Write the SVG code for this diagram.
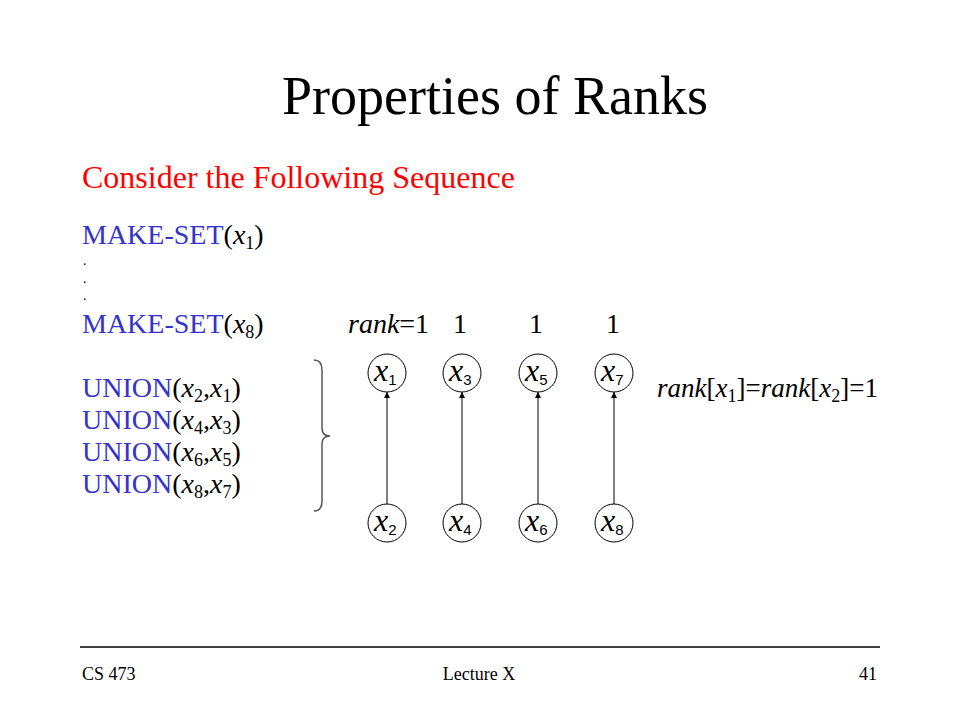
<svg xmlns="http://www.w3.org/2000/svg" width="960" height="720" viewBox="0 0 960 720">
<defs>
<style>
.serif{font-family:"Liberation Serif","Times New Roman",serif}
.blue{fill:#3333CC}
.it{font-style:italic}
.node circle{fill:#fff;stroke:#000;stroke-width:1}
.nx{font-family:"Liberation Serif",serif;font-style:italic;font-size:32px;fill:#000}
.ns{font-family:"Liberation Sans",Arial,sans-serif;font-size:15px;fill:#000}
.edge{stroke:#000;stroke-width:1;fill:none}
</style>
<marker id="ah" viewBox="0 0 10 10" refX="10" refY="5" markerWidth="6" markerHeight="6" orient="auto" markerUnits="userSpaceOnUse">
<path d="M0,0 L10,5 L0,10 z" fill="#000"/>
</marker>
</defs>
<rect width="960" height="720" fill="#fff"/>
<text class="serif" x="495" y="114" font-size="54" text-anchor="middle">Properties of Ranks</text>
<text class="serif" x="82" y="188" font-size="32" fill="#FF0000">Consider the Following Sequence</text>
<g class="serif" font-size="28">
<text x="82" y="244"><tspan class="blue">MAKE-SET</tspan>(<tspan class="it">x</tspan><tspan font-size="18" dy="5">1</tspan><tspan dy="-5">)</tspan></text>
<text x="83" y="265" font-size="14">.</text>
<text x="83" y="283" font-size="14">.</text>
<text x="83" y="300" font-size="14">.</text>
<text x="82" y="333"><tspan class="blue">MAKE-SET</tspan>(<tspan class="it">x</tspan><tspan font-size="18" dy="5">8</tspan><tspan dy="-5">)</tspan></text>
<text x="82" y="397"><tspan class="blue">UNION</tspan>(<tspan class="it">x</tspan><tspan font-size="18" dy="5">2</tspan><tspan dy="-5">,</tspan><tspan class="it">x</tspan><tspan font-size="18" dy="5">1</tspan><tspan dy="-5">)</tspan></text>
<text x="82" y="429"><tspan class="blue">UNION</tspan>(<tspan class="it">x</tspan><tspan font-size="18" dy="5">4</tspan><tspan dy="-5">,</tspan><tspan class="it">x</tspan><tspan font-size="18" dy="5">3</tspan><tspan dy="-5">)</tspan></text>
<text x="82" y="461"><tspan class="blue">UNION</tspan>(<tspan class="it">x</tspan><tspan font-size="18" dy="5">6</tspan><tspan dy="-5">,</tspan><tspan class="it">x</tspan><tspan font-size="18" dy="5">5</tspan><tspan dy="-5">)</tspan></text>
<text x="82" y="493"><tspan class="blue">UNION</tspan>(<tspan class="it">x</tspan><tspan font-size="18" dy="5">8</tspan><tspan dy="-5">,</tspan><tspan class="it">x</tspan><tspan font-size="18" dy="5">7</tspan><tspan dy="-5">)</tspan></text>
<text x="348" y="333"><tspan class="it">rank</tspan>=1</text>
<text x="460" y="333" text-anchor="middle">1</text>
<text x="536" y="333" text-anchor="middle">1</text>
<text x="613" y="333" text-anchor="middle">1</text>
<text x="657" y="397" font-size="27"><tspan class="it">rank</tspan>[<tspan class="it">x</tspan><tspan font-size="18" dy="5">1</tspan><tspan dy="-5">]=</tspan><tspan class="it">rank</tspan>[<tspan class="it">x</tspan><tspan font-size="18" dy="5">2</tspan><tspan dy="-5">]=1</tspan></text>
</g>
<path d="M314,360 Q322,360 322,370 L322,428 Q322,436 330,436 Q322,436 322,444 L322,501 Q322,511 314,511" fill="none" stroke="#555" stroke-width="1.5"/>
<g id="connectors">
<line class="edge" x1="387" y1="504" x2="387" y2="392" marker-end="url(#ah)"/>
<line class="edge" x1="462" y1="504" x2="462" y2="392" marker-end="url(#ah)"/>
<line class="edge" x1="538" y1="504" x2="538" y2="392" marker-end="url(#ah)"/>
<line class="edge" x1="614" y1="504" x2="614" y2="392" marker-end="url(#ah)"/>
</g>
<g id="n1" class="node"><circle cx="387" cy="373" r="19"/><text x="374" y="381"><tspan class="nx">x</tspan><tspan class="ns" dy="4">1</tspan></text></g>
<g id="n3" class="node"><circle cx="462" cy="373" r="19"/><text x="449" y="381"><tspan class="nx">x</tspan><tspan class="ns" dy="4">3</tspan></text></g>
<g id="n5" class="node"><circle cx="538" cy="373" r="19"/><text x="525" y="381"><tspan class="nx">x</tspan><tspan class="ns" dy="4">5</tspan></text></g>
<g id="n7" class="node"><circle cx="614" cy="373" r="19"/><text x="601" y="381"><tspan class="nx">x</tspan><tspan class="ns" dy="4">7</tspan></text></g>
<g id="n2" class="node"><circle cx="387" cy="523" r="19"/><text x="374" y="531"><tspan class="nx">x</tspan><tspan class="ns" dy="4">2</tspan></text></g>
<g id="n4" class="node"><circle cx="462" cy="523" r="19"/><text x="449" y="531"><tspan class="nx">x</tspan><tspan class="ns" dy="4">4</tspan></text></g>
<g id="n6" class="node"><circle cx="538" cy="523" r="19"/><text x="525" y="531"><tspan class="nx">x</tspan><tspan class="ns" dy="4">6</tspan></text></g>
<g id="n8" class="node"><circle cx="614" cy="523" r="19"/><text x="601" y="531"><tspan class="nx">x</tspan><tspan class="ns" dy="4">8</tspan></text></g>
<line x1="80" y1="647" x2="880" y2="647" stroke="#000" stroke-width="1.5"/>
<g class="serif" font-size="18">
<text x="82" y="680">CS 473</text>
<text x="479" y="680" text-anchor="middle">Lecture X</text>
<text x="877" y="680" text-anchor="end">41</text>
</g>
</svg>
